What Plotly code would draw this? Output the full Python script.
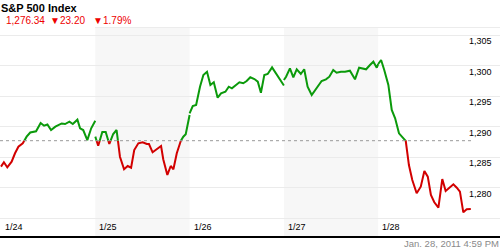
import plotly.graph_objects as go

# ---------------- data ----------------
days = ["1/24", "1/25", "1/26", "1/27", "1/28"]
ref_level = 1287.7          # dotted reference level
title = "S&P 500 Index"
last_price = "1,276.34"
change = "23.20"
pct_change = "1.79%"
timestamp = "Jan. 28, 2011 4:59 PM"
y_ticks = [1280, 1285, 1290, 1295, 1300, 1305]

# minutes since the open, and index values, for each session
d1_min = [0, 12, 26, 44, 58, 72, 90, 106, 121, 145, 164, 178, 192, 207, 225, 251, 265, 283, 297, 316, 327, 340, 357, 373, 390]
d1_val = [1283.45, 1284.17, 1283.35, 1284.26, 1285.64, 1286.72, 1287.28, 1288.36, 1289.04, 1289.24,
          1290.60, 1290.16, 1290.35, 1289.45, 1289.99, 1290.52, 1290.43, 1290.81, 1290.43, 1291.14,
          1289.73, 1289.45, 1287.80, 1289.73, 1290.97]

d2_min = [0, 12, 29, 43, 58, 74, 88, 102, 119, 134, 148, 161, 178, 196, 213, 222, 237, 256, 272, 281,
          298, 312, 323, 337, 353, 364, 374, 390]
d2_val = [1288.36, 1286.88, 1289.12, 1289.12, 1287.16, 1288.80, 1289.45, 1285.08, 1283.02, 1283.56,
          1283.28, 1286.18, 1287.28, 1287.44, 1287.16, 1287.16, 1285.80, 1286.29, 1286.83, 1284.66,
          1282.09, 1283.56, 1283.02, 1285.64, 1287.65, 1288.36, 1288.75, 1291.91]

d3_min = [0, 13, 27, 43, 57, 72, 86, 100, 116, 130, 148, 162, 175, 192, 206, 222, 236, 251, 268, 282,
          295, 309, 323, 341, 355, 371, 390]
d3_val = [1292.18, 1293.38, 1293.54, 1296.54, 1298.45, 1298.99, 1296.82, 1297.26, 1294.74, 1295.46,
          1295.72, 1296.54, 1296.28, 1296.82, 1297.26, 1297.10, 1297.47, 1298.08, 1297.80, 1297.36,
          1295.56, 1298.45, 1298.62, 1299.71, 1298.83, 1297.91, 1296.73]

d4_min = [0, 9, 25, 39, 53, 70, 84, 98, 115, 133, 156, 174, 188, 204, 218, 236, 253, 273, 294, 311,
          324, 340, 356, 370, 384, 390]
d4_val = [1297.64, 1298.18, 1299.55, 1298.08, 1299.39, 1298.62, 1299.39, 1296.54, 1295.18, 1296.16,
          1297.47, 1297.75, 1298.18, 1299.27, 1298.83, 1298.99, 1298.99, 1299.16, 1297.75, 1299.65,
          1299.55, 1299.39, 1300.09, 1300.63, 1299.65, 1300.25]

d5_min = [0, 12, 25, 42, 56, 70, 86, 97, 114, 127, 141, 159, 176, 191, 205, 218, 232, 249, 265, 279,
          297, 311, 325, 338, 352, 366, 383]
d5_val = [1300.25, 1300.91, 1299.27, 1296.82, 1292.73, 1291.37, 1288.91, 1288.36, 1287.65, 1283.72,
          1281.27, 1279.09, 1280.17, 1282.74, 1281.81, 1278.81, 1277.62, 1276.73, 1281.43, 1279.47,
          1280.07, 1280.56, 1280.01, 1279.35, 1275.98, 1276.47, 1276.50]

sessions = [(d1_min, d1_val), (d2_min, d2_val), (d3_min, d3_val), (d4_min, d4_val), (d5_min, d5_val)]

# ---------------- styling / geometry ----------------
W, H = 500, 250
TOP, BOTTOM = 28, 14
PLOT_H = H - TOP - BOTTOM
DAY_MIN = 390
DAY_PX = 94.3
X0_PX = 1.0
GREEN = "#0b9a0b"
RED = "#d20000"

x_range = [-X0_PX * DAY_MIN / DAY_PX, (W - X0_PX) * DAY_MIN / DAY_PX]
y_range = [1272.10, 1306.15]


def paper_y(py):
    return (H - BOTTOM - py) / PLOT_H


# split each session into above / below reference pieces
green_x, green_y, red_x, red_y = [], [], [], []
for i, (mins, vals) in enumerate(sessions):
    xs = [i * DAY_MIN + m for m in mins]
    seg_x, seg_y = [xs[0]], [vals[0]]
    above = vals[0] >= ref_level
    for k in range(1, len(xs)):
        a_now = vals[k] >= ref_level
        if a_now != above:
            t = (ref_level - vals[k - 1]) / (vals[k] - vals[k - 1])
            xc = xs[k - 1] + t * (xs[k] - xs[k - 1])
            seg_x.append(xc)
            seg_y.append(ref_level)
            if above:
                green_x += seg_x + [None]; green_y += seg_y + [None]
            else:
                red_x += seg_x + [None]; red_y += seg_y + [None]
            seg_x, seg_y = [xc], [ref_level]
            above = a_now
        seg_x.append(xs[k]); seg_y.append(vals[k])
    if above:
        green_x += seg_x + [None]; green_y += seg_y + [None]
    else:
        red_x += seg_x + [None]; red_y += seg_y + [None]

fig = go.Figure()

# shaded alternate days
shapes = []
for i in range(len(days)):
    if i % 2 == 1:
        shapes.append(dict(type="rect", xref="x", yref="paper", x0=i * DAY_MIN, x1=(i + 1) * DAY_MIN,
                           y0=0, y1=1, fillcolor="#f7f7f7", line=dict(width=0), layer="below"))
# top header rule
shapes.append(dict(type="line", xref="paper", yref="paper", x0=95 / W, x1=1, y0=paper_y(27.5), y1=paper_y(27.5),
                   line=dict(color="#ececec", width=1)))
# reference dotted line
shapes.append(dict(type="line", xref="x", yref="y", x0=x_range[0], x1=len(days) * DAY_MIN,
                   y0=ref_level, y1=ref_level, line=dict(color="#999999", width=1, dash="3px,3px")))
# bottom axis line
shapes.append(dict(type="line", xref="paper", yref="paper", x0=0, x1=1, y0=paper_y(237), y1=paper_y(237),
                   line=dict(color="#000000", width=2)))

fig.add_trace(go.Scatter(x=red_x, y=red_y, mode="lines", line=dict(color=RED, width=2),
                         hoverinfo="skip", showlegend=False))
fig.add_trace(go.Scatter(x=green_x, y=green_y, mode="lines", line=dict(color=GREEN, width=2),
                         hoverinfo="skip", showlegend=False))

FONT = "Liberation Sans, Arial, sans-serif"
annotations = []
for v in y_ticks:
    annotations.append(dict(xref="paper", yref="y", x=494 / W, y=v, text=f"{v:,}", showarrow=False,
                            xanchor="right", yanchor="middle", yshift=-6,
                            font=dict(family=FONT, size=9, color="#000000")))
for i, d in enumerate(days):
    annotations.append(dict(xref="x", yref="paper", x=i * DAY_MIN, y=paper_y(227), text=d, showarrow=False,
                            xanchor="left", yanchor="middle", xshift=2,
                            font=dict(family=FONT, size=9, color="#000000")))
annotations.append(dict(xref="paper", yref="paper", x=0, y=paper_y(8), text=f"<b>{title}</b>", showarrow=False,
                        xanchor="left", yanchor="middle", xshift=-1,
                        font=dict(family=FONT, size=11, color="#000000")))
for xpx, txt in [(5, last_price), (49, "▼"), (59, change), (92, "▼"), (102, pct_change)]:
    annotations.append(dict(xref="paper", yref="paper", x=xpx / W, y=paper_y(20.5), text=txt, showarrow=False,
                            xanchor="left", yanchor="middle", xshift=-1,
                            font=dict(family=FONT, size=10, color="#ee0000")))
annotations.append(dict(xref="paper", yref="paper", x=1, y=paper_y(243.5), text=timestamp, showarrow=False,
                        xanchor="right", yanchor="middle", xshift=1,
                        font=dict(family=FONT, size=9.5, color="#8a8a8a")))

fig.update_layout(
    width=W, height=H,
    margin=dict(l=0, r=0, t=TOP, b=BOTTOM, pad=0),
    paper_bgcolor="#ffffff", plot_bgcolor="#ffffff",
    xaxis=dict(range=x_range, showgrid=False, zeroline=False, showticklabels=False, showline=False,
               fixedrange=True),
    yaxis=dict(range=y_range, showgrid=True, gridcolor="#ebebeb", gridwidth=1, tick0=1275, dtick=5,
               zeroline=False, showticklabels=False, showline=False, fixedrange=True),
    shapes=shapes,
    annotations=annotations,
    showlegend=False,
    hovermode=False,
)

fig.write_html("out.html", config={"displayModeBar": False})
